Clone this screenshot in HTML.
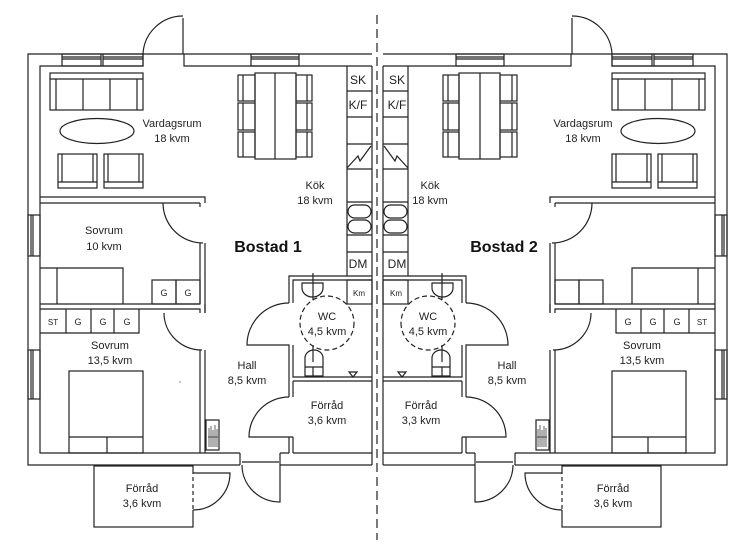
<!DOCTYPE html>
<html><head><meta charset="utf-8"><style>
html,body{margin:0;padding:0;background:#fff;}
svg{display:block;}
text{font-family:"Liberation Sans",sans-serif;font-size:11px;fill:#222;text-anchor:middle;}
</style></head><body>
<svg width="738" height="550" viewBox="0 0 738 550" xmlns="http://www.w3.org/2000/svg">
<defs>
<g id="half" fill="none" stroke="#222" stroke-width="1.2">
  <path d="M372,54 H28 V465 H240 M280,465 H372"/>
  <path d="M372,66 H184 V54 M143,54 V66 H40 V453 H240 M280,453 H289 M293,453 H372"/>
  <path d="M240,453 V465 M280,453 V465 M242,462 H279"/>
  <rect x="62" y="54" width="39" height="12"/><path d="M62,57 H101 M62,59 H101"/>
  <rect x="103" y="54" width="40" height="12"/><path d="M103,57 H143 M103,59 H143"/>
  <rect x="251" y="54" width="48" height="12"/><path d="M251,57 H299 M251,59 H299"/>
  <path d="M183,18 V54 M143,54 A40,40 0 0 1 183,16"/>
  <rect x="28" y="215" width="12" height="41"/><path d="M31,215 V256 M33,215 V256"/>
  <rect x="28" y="350" width="12" height="49"/><path d="M31,350 V399 M33,350 V399"/>
  <path d="M372,66 V465"/>
  <path d="M40,197 H205 V203 M40,203 H200 V203"/>
  <path d="M200,203 V207 M163,203 A40,40 0 0 0 203,243"/>
  <path d="M200,243 V304 M205,243 V313"/>
  <path d="M40,304 H200 M40,309 H200 V313 M205,304 V313"/>
  <path d="M164,313 A38,37 0 0 0 202,350"/>
  <path d="M200,350 V453 M205,350 V453"/>
  <path d="M289,303 V276 H372 M293,303 V280 H372"/>
  <path d="M289,303 A42,42 0 0 0 247,345 H289 V397 M293,345 V377 H372 M293,381 H372 M293,381 V397"/>
  <path d="M289,397 A40,40 0 0 0 249,437 H293 M289,437 V453 M293,437 V453"/>
  <path d="M347,66 V276"/>
  <path d="M347,91 H372 M347,117 H372 M347,144 H372 M347,169 H372 M347,202 H372 M347,235 H372 M347,252 H372"/>
  <path d="M347,168 L358,156 L360,161 L371,146"/>
  <rect x="348" y="205" width="23" height="13" rx="6.5"/>
  <rect x="348" y="220" width="23" height="13" rx="6.5"/>
  <rect x="347" y="280" width="25" height="24"/>
  <rect x="255" y="73" width="41" height="86"/><path d="M275,73 V159"/>
  <rect x="238" y="75" width="17" height="26"/><path d="M243,75 V101"/>
  <rect x="238" y="103" width="17" height="27"/><path d="M243,103 V130"/>
  <rect x="238" y="132" width="17" height="25"/><path d="M243,132 V157"/>
  <rect x="296" y="75" width="16" height="26"/><path d="M307,75 V101"/>
  <rect x="296" y="103" width="16" height="27"/><path d="M307,103 V130"/>
  <rect x="296" y="132" width="16" height="25"/><path d="M307,132 V157"/>
  <rect x="50" y="73" width="93" height="37"/><path d="M50,79 H143 M56,79 V110 M137,79 V110 M83,79 V110 M110,79 V110"/>
  <ellipse cx="97" cy="131" rx="37" ry="12.5"/>
  <rect x="58" y="154" width="39" height="34"/><path d="M58,182 H97 M62,154 V182 M93,154 V182"/>
  <rect x="104" y="154" width="39" height="34"/><path d="M104,182 H143 M108,154 V182 M139,154 V182"/>
  <path d="M40,268 H123 V304 M57,268 V304"/>
  <rect x="152" y="280" width="24" height="24"/><rect x="176" y="280" width="24" height="24"/>
  <path d="M40,333 H139 V309 M66,309 V333 M91,309 V333 M114,309 V333"/>
  <rect x="69" y="371" width="74" height="82"/><path d="M69,437 H143 M107,437 V453"/>
  <rect x="206" y="420" width="13" height="30"/>
  <path d="M209,428 V447 M211,426 V447 M213,430 V447 M215,425 V447 M217,429 V447 M208,437 H218" stroke-width="0.7"/>
  <path d="M313,273 V300 M302,283 H323 V288 A10.5,9 0 0 1 302,288 Z"/>
  <path d="M305,376 V358 A9,8 0 0 1 323,358 V376 Z M305,367 H323 M313,367 V376 M313,345 V362"/>
  <path d="M349,372 H357 L353,377 Z"/>
  <circle cx="327" cy="323" r="27" stroke-dasharray="5,3"/>
  <rect x="94" y="466" width="99" height="61"/>
  <path d="M193,470 V510" stroke="#fff" stroke-width="2"/>
  <path d="M193,470 V510" stroke-dasharray="4,3"/>
  <path d="M193,473 H230 A37,37 0 0 1 193,510"/>
  <path d="M280,465 V502 A38,37 0 0 1 242,465"/>
</g>
</defs>
<use href="#half"/>
<use href="#half" transform="translate(755,0) scale(-1,1)"/>
<path d="M377,15 V540" stroke="#222" stroke-width="1.2" stroke-dasharray="9,5"/>
<circle cx="180" cy="382" r="0.6" fill="#444"/>
<text x="172" y="127">Vardagsrum</text><text x="172" y="142">18 kvm</text>
<text x="315" y="189">Kök</text><text x="315" y="204">18 kvm</text>
<text x="268" y="252" style="font-size:16px;font-weight:bold;fill:#111">Bostad 1</text>
<text x="104" y="234">Sovrum</text><text x="104" y="250">10 kvm</text>
<text x="164" y="296" style="font-size:9px">G</text><text x="188" y="296" style="font-size:9px">G</text>
<text x="53" y="325" style="font-size:8px">ST</text><text x="78" y="325" style="font-size:9px">G</text><text x="103" y="325" style="font-size:9px">G</text><text x="127" y="325" style="font-size:9px">G</text>
<text x="110" y="349">Sovrum</text><text x="110" y="364">13,5 kvm</text>
<text x="247" y="369">Hall</text><text x="247" y="384">8,5 kvm</text>
<text x="327" y="320">WC</text><text x="327" y="335">4,5 kvm</text>
<text x="327" y="409">Förråd</text><text x="327" y="424">3,6 kvm</text>
<text x="142" y="492">Förråd</text><text x="142" y="507">3,6 kvm</text>
<text x="358" y="84" style="font-size:12px">SK</text><text x="358" y="109" style="font-size:12px">K/F</text>
<text x="358" y="268" style="font-size:12px">DM</text><text x="359" y="296" style="font-size:8px">Km</text>
<text x="583" y="127">Vardagsrum</text><text x="583" y="142">18 kvm</text>
<text x="430" y="189">Kök</text><text x="430" y="204">18 kvm</text>
<text x="504" y="252" style="font-size:16px;font-weight:bold;fill:#111">Bostad 2</text>
<text x="628" y="325" style="font-size:9px">G</text><text x="653" y="325" style="font-size:9px">G</text><text x="677" y="325" style="font-size:9px">G</text><text x="702" y="325" style="font-size:8px">ST</text>
<text x="642" y="349">Sovrum</text><text x="642" y="364">13,5 kvm</text>
<text x="507" y="369">Hall</text><text x="507" y="384">8,5 kvm</text>
<text x="428" y="320">WC</text><text x="428" y="335">4,5 kvm</text>
<text x="421" y="409">Förråd</text><text x="421" y="424">3,3 kvm</text>
<text x="613" y="492">Förråd</text><text x="613" y="507">3,6 kvm</text>
<text x="397" y="84" style="font-size:12px">SK</text><text x="397" y="109" style="font-size:12px">K/F</text>
<text x="397" y="268" style="font-size:12px">DM</text><text x="396" y="296" style="font-size:8px">Km</text>
</svg>
</body></html>
